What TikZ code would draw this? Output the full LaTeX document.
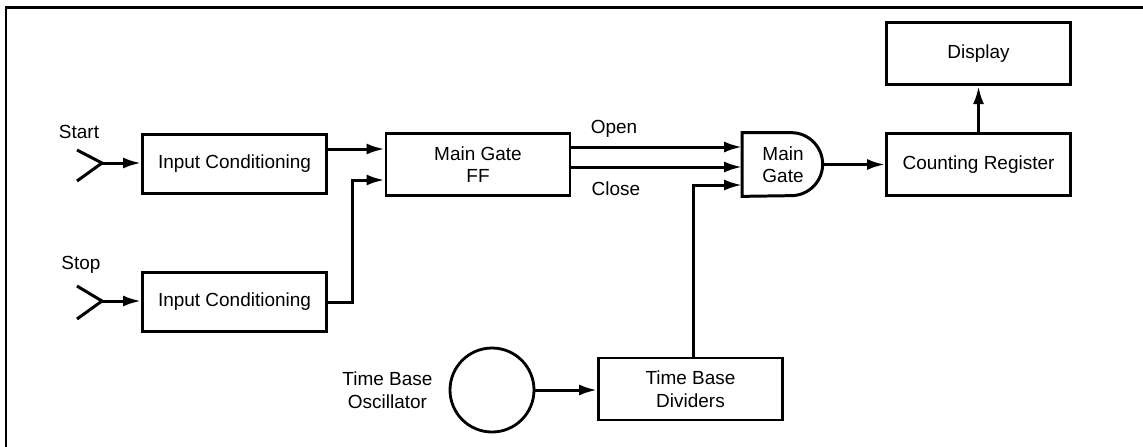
\documentclass[tikz,border=0pt]{standalone}
\usepackage{fontspec}
\setmainfont{Liberation Sans}
\usetikzlibrary{arrows.meta,positioning,calc}
\tikzset{
  % Base styles
  diagram base/.style={
    >={Latex[length=3.6mm,width=2.2mm]},
    every node/.style={font=\fontsize{10.8}{12.8}\selectfont},
    x=0.2mm, y=-0.2mm,
  },
  % Counter blocks
  block node/.style={rectangle, draw, line width=1.6pt, minimum width=36.8mm, minimum height=12.4mm, inner sep=2pt, align=center},
  osc node/.style={circle, draw, line width=1.6pt, minimum size=16.8mm, inner sep=0pt},
  gate node/.style={rectangle, minimum width=16.2mm, minimum height=12.6mm, inner sep=0pt, align=center},
  % Plain labels
  label text/.style={align=center, inner sep=1pt},
  % Lines
  signal/.style={->, line width=1.7pt},
  wire/.style={line width=1.7pt},
  frame line/.style={line width=1.7pt},
}

\begin{document}
\begin{tikzpicture}[diagram base]
\useasboundingbox (0,0) rectangle (1143,446);
\draw[frame line] (6,450) -- (6,7) -- (1150,7);

% Input channels
\node[label text] (startlabel) at (79,132) {Start};
\node[label text] (stoplabel) at (81,265) {Stop};
\coordinate (s1) at (102,163);
\coordinate (s2) at (102,301);
\node[block node, minimum height=11.8mm] (in1) at (234.5,164) {Input Conditioning};
\node[block node, minimum height=11.8mm] (in2) at (234.5,302) {Input Conditioning};

% Gate section
\node[block node] (ff) at (478,164.5) {Main Gate\\FF};
\node[gate node] (gate) at (783,164.5) {Main\\Gate};
\node[label text] (openlabel) at (614,129) {Open};
\node[label text] (closelabel) at (616,189) {Close};

% Counting and display
\node[block node] (count) at (978.5,164.5) {Counting Register};
\node[block node, above=9.2mm of count] (disp) {Display};

% Time base
\node[osc node] (osc) at (492,390) {};
\node[label text, left=2.8mm of osc] (osclabel) {Time Base\\Oscillator};
\node[block node] (tbd) at (690.5,389) {Time Base\\Dividers};

% Gate outline
\draw[wire] (gate.north west) -- ++(49,0) arc[start angle=90, end angle=-90, radius=6.3mm] -- (gate.south west) -- cycle;

% Input symbols
\draw[wire] ([shift={(-25,-13)}]s1) -- (s1) -- ([shift={(-25,18)}]s1);
\draw[wire] ([shift={(-25,-15)}]s2) -- (s2) -- ([shift={(-25,18)}]s2);

% Edges
\draw[signal] (s1) -- (s1 -| in1.west);
\draw[signal] (s2) -- (s2 -| in2.west);
\draw[signal] ([yshift=3mm]in1.east) -- ([yshift=3mm]in1.east -| ff.west);
\draw[signal] (in2.east) -- ++(5mm,0) |- ([yshift=-3.1mm]ff.west);
\draw[signal] ([yshift=3.5mm]ff.east) -- ([yshift=3.5mm]ff.east -| gate.west);
\draw[signal] ([yshift=-0.5mm]ff.east) -- ([yshift=-0.5mm]ff.east -| gate.west);
\draw[signal] ([xshift=0.5mm]tbd.north) |- ([yshift=-4.1mm]gate.west);
\draw[signal] (gate.east) -- (gate.east -| count.west);
\draw[signal] (count.north) -- (count.north |- disp.south);
\draw[signal] (osc.east) -- (osc.east -| tbd.west);
\end{tikzpicture}
\end{document}
